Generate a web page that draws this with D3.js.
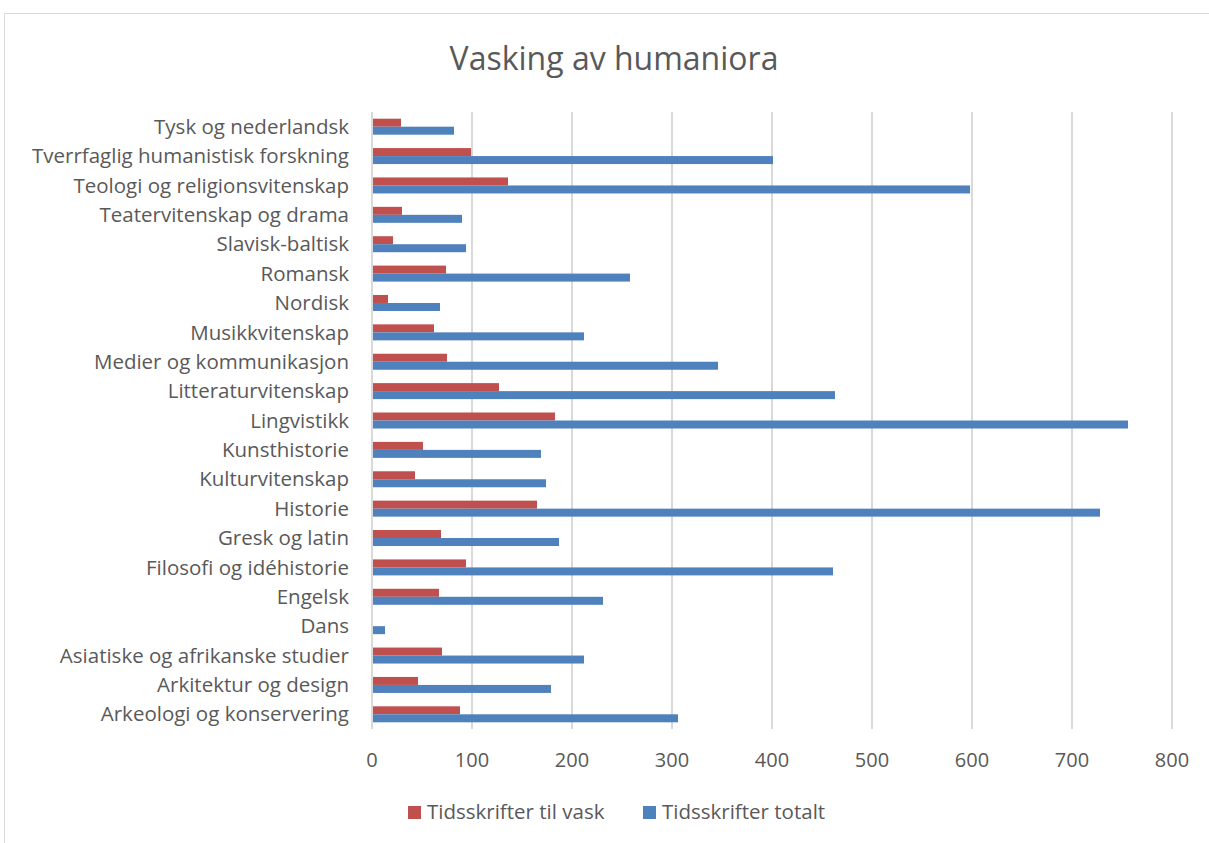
<!DOCTYPE html>
<html>
<head>
<meta charset="utf-8">
<script src="https://cdn.jsdelivr.net/npm/d3@7"></script>
<style>
  body { margin: 0; background: #fff; }
  svg { display: block; font-family: 'Open Sans', sans-serif; }
</style>
</head>
<body>
<div class="chart"></div>
<script>
// categories listed bottom to top, as in the source sheet
const categories = [
  'Arkeologi og konservering', 'Arkitektur og design', 'Asiatiske og afrikanske studier',
  'Dans', 'Engelsk', 'Filosofi og idéhistorie', 'Gresk og latin', 'Historie',
  'Kulturvitenskap', 'Kunsthistorie', 'Lingvistikk', 'Litteraturvitenskap',
  'Medier og kommunikasjon', 'Musikkvitenskap', 'Nordisk', 'Romansk',
  'Slavisk-baltisk', 'Teatervitenskap og drama', 'Teologi og religionsvitenskap',
  'Tverrfaglig humanistisk forskning', 'Tysk og nederlandsk'
]
const tilVask = [88, 46, 70, 0, 67, 94, 69, 165, 43, 51, 183, 127, 75, 62, 16, 74, 21, 30, 136, 99, 29]
const totalt = [306, 179, 212, 13, 231, 461, 187, 728, 174, 169, 756, 463, 346, 212, 68, 258, 94, 90, 598, 401, 82]
const xTicks = [0, 100, 200, 300, 400, 500, 600, 700, 800]
const seriesNames = ['Tidsskrifter til vask', 'Tidsskrifter totalt']
const seriesColors = ['#C0504D', '#4F81BD']

const width = 1209
const height = 843
const margin = { top: 112, right: 36, bottom: 114, left: 372 }

const svg = d3.select('.chart')
  .append('svg')
  .attr('width', width)
  .attr('height', height)

// chart frame
svg.append('rect')
  .attr('x', 4.5).attr('y', 13.5)
  .attr('width', width + 20).attr('height', height)
  .attr('fill', 'none')
  .attr('stroke', '#d9d9d9')

svg.append('text')
  .attr('x', 614).attr('y', 70)
  .attr('text-anchor', 'middle')
  .attr('font-size', 32)
  .attr('fill', '#595959')
  .text('Vasking av humaniora')

const x = d3.scaleLinear()
  .domain([0, 800])
  .range([margin.left, width - margin.right - 1])

const y = d3.scaleBand()
  .domain(categories.slice().reverse())
  .range([margin.top, height - margin.bottom])

const inner = d3.scaleBand()
  .domain([0, 1])
  .range([0, 16])

const rows = categories.map((c, i) => ({ name: c, values: [tilVask[i], totalt[i]] }))

// gridlines
svg.append('g')
  .selectAll('line')
  .data(xTicks)
  .enter()
  .append('line')
  .attr('x1', (d) => x(d))
  .attr('x2', (d) => x(d))
  .attr('y1', margin.top)
  .attr('y2', height - margin.bottom)
  .attr('stroke', '#d9d9d9')
  .attr('stroke-width', 2)

const group = svg.append('g')
  .selectAll('g')
  .data(rows)
  .enter()
  .append('g')
  .attr('transform', (d) => `translate(0,${y(d.name) + y.bandwidth() / 2 - 8})`)

group.selectAll('rect')
  .data((d) => d.values)
  .enter()
  .append('rect')
  .attr('x', x(0) + 1)
  .attr('y', (d, i) => inner(i))
  .attr('width', (d) => Math.max(0, x(d) - x(0) - 1))
  .attr('height', inner.bandwidth())
  .attr('fill', (d, i) => seriesColors[i])

// category labels
svg.append('g')
  .selectAll('text')
  .data(categories)
  .enter()
  .append('text')
  .attr('x', 349)
  .attr('y', (d) => y(d) + y.bandwidth() / 2)
  .attr('dy', '0.35em')
  .attr('text-anchor', 'end')
  .attr('font-size', 20.5)
  .attr('fill', '#595959')
  .text((d) => d)

// x tick labels
svg.append('g')
  .selectAll('text')
  .data(xTicks)
  .enter()
  .append('text')
  .attr('x', (d) => x(d))
  .attr('y', 760)
  .attr('dy', '0.35em')
  .attr('text-anchor', 'middle')
  .attr('font-size', 20)
  .attr('fill', '#595959')
  .text((d) => d)

// legend
const legendX = [408, 643]
const legend = svg.append('g')
  .selectAll('g')
  .data(seriesNames)
  .enter()
  .append('g')
  .attr('transform', (d, i) => `translate(${legendX[i]},812)`)

legend.append('rect')
  .attr('x', 0).attr('y', -6)
  .attr('width', 13).attr('height', 13)
  .attr('fill', (d, i) => seriesColors[i])

legend.append('text')
  .attr('x', 19)
  .attr('dy', '0.35em')
  .attr('font-size', 20.5)
  .attr('fill', '#595959')
  .text((d) => d)
</script>
</body>
</html>
